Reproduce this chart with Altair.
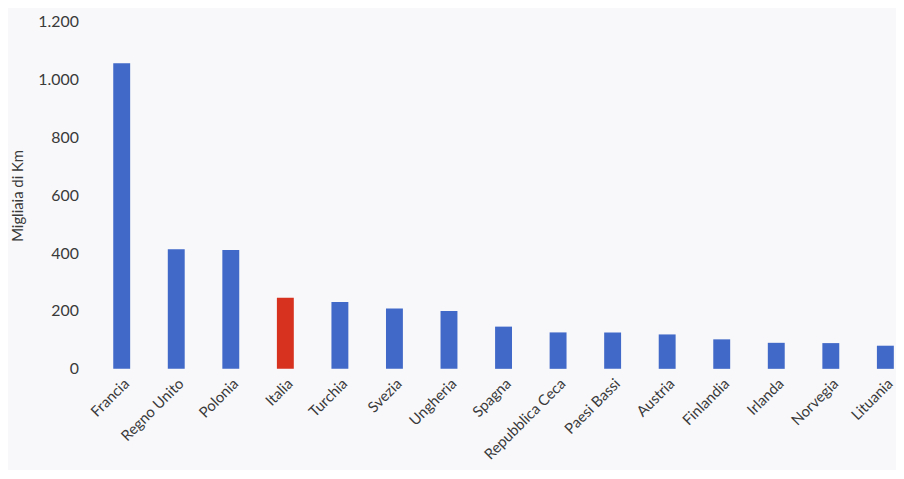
import altair as alt
import pandas as pd

paesi = ["Francia", "Regno Unito", "Polonia", "Italia", "Turchia", "Svezia",
         "Ungheria", "Spagna", "Repubblica Ceca", "Paesi Bassi", "Austria",
         "Finlandia", "Irlanda", "Norvegia", "Lituania"]
valori = [1057, 414, 411, 246, 231, 209, 200, 146, 126, 126, 119, 102, 90, 89, 80]
evidenziato = ["Italia"]

df = pd.DataFrame({"paese": paesi, "valore": valori})
df["gruppo"] = ["evid" if p in evidenziato else "altro" for p in paesi]

font = "Lato"

chart = alt.Chart(df).mark_bar().encode(
    x=alt.X("paese:N", sort=paesi, title=None,
            scale=alt.Scale(paddingInner=0.69, paddingOuter=0.04),
            axis=alt.Axis(labelAngle=-45, labelFontSize=15, labelColor="#3a3a3a",
                          labelFont=font, domain=False, ticks=False, labelPadding=7,
                          labelAlign="right", labelBaseline="top", labelOffset=0)),
    y=alt.Y("valore:Q", title="Migliaia di Km",
            scale=alt.Scale(domain=[0, 1200], nice=False),
            axis=alt.Axis(values=[0, 200, 400, 600, 800, 1000, 1200],
                          labelExpr="replace(format(datum.value, ','), ',', '.')",
                          grid=False, domain=False, ticks=False, labelPadding=33,
                          labelFontSize=16, labelColor="#3a3a3a", labelFont=font,
                          titleFont=font, titleFontSize=15, titleFontWeight="normal",
                          titleColor="#3a3a3a", titlePadding=12)),
    color=alt.Color("gruppo:N", legend=None,
                    scale=alt.Scale(domain=["altro", "evid"], range=["#4169c8", "#d6321f"])),
).properties(
    width=792, height=350,
    autosize=alt.AutoSizeParams(type="none"),
    padding={"left": 104, "top": 12, "right": 0, "bottom": 100},
    background="#f8f8fa",
).configure_view(stroke=None)

chart.save("out.html", embed_options={"renderer": "svg", "actions": False})
